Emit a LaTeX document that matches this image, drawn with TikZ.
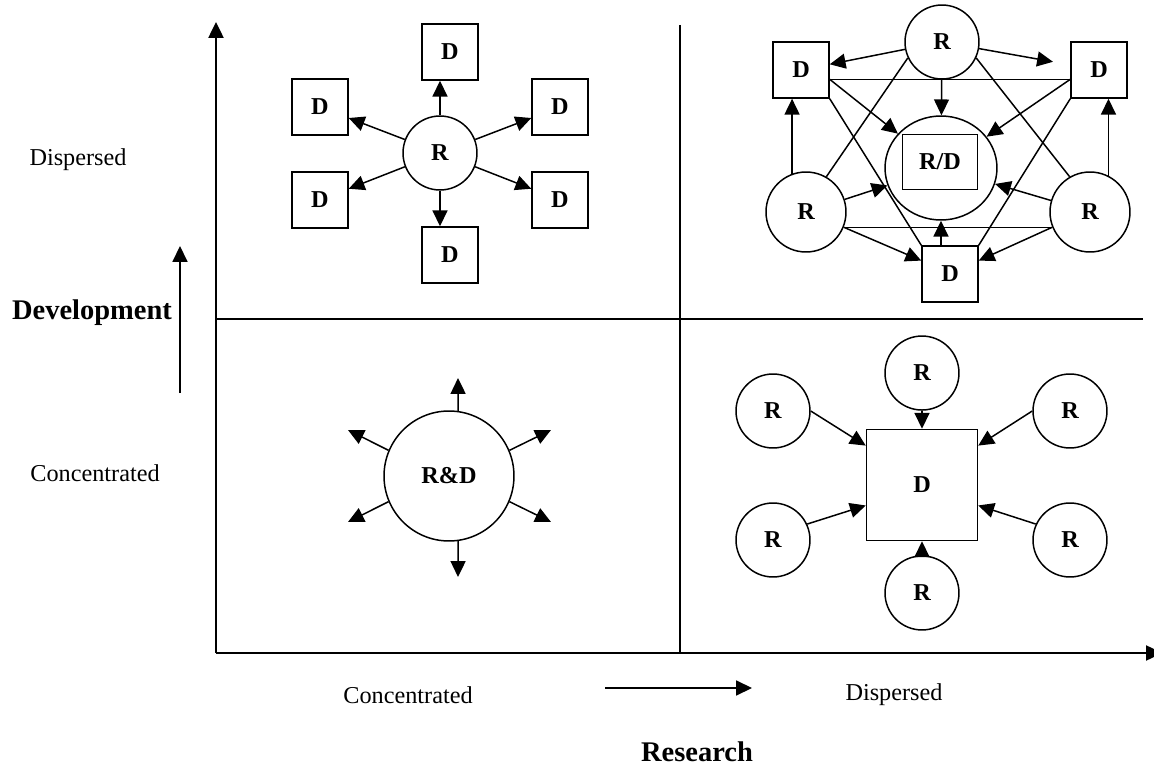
\documentclass[tikz,border=0pt]{standalone}
\usepackage{fontspec}
\setmainfont{Liberation Serif}
\usetikzlibrary{arrows.meta, shapes.geometric, positioning}

\begin{document}
\begin{tikzpicture}[
        x=0.02cm, y=-0.02cm,
        line width=0.85pt,
        >={Triangle[length=9pt, width=8.5pt]},
        dbox/.style={rectangle, draw, minimum size=1.12cm, inner sep=0pt, font=\fontsize{13.8}{16}\selectfont\bfseries},
        rcirc/.style={circle, draw, minimum size=1.48cm, inner sep=0pt, font=\fontsize{13.8}{16}\selectfont\bfseries},
        axis/.style={line width=1.2pt},
        axislabel/.style={font=\fontsize{13.8}{16}\selectfont},
        axistitle/.style={font=\fontsize{16.2}{19}\selectfont\bfseries}
    ]
    \useasboundingbox (0,0) rectangle (1154,767);

    % Axes and quadrants
    \coordinate (origin) at (216,653);
    \coordinate (dev_end) at (216,22);
    \coordinate (res_end) at (1162,653);
    \coordinate (vsplit_top) at (680,25);
    \coordinate (vsplit_bot) at (680,653);
    \coordinate (hsplit_left) at (216,319);
    \coordinate (hsplit_right) at (1143,319);
    \draw[axis, ->] (origin) -- (dev_end);
    \draw[axis, ->] (origin) -- (res_end);
    \draw (vsplit_top) -- (vsplit_bot);
    \draw (hsplit_left) -- (hsplit_right);

    % Development axis labels
    \node[axislabel] (dev_disp) at (78,160) {Dispersed};
    \node[axislabel] (dev_conc) at (95,473) {Concentrated};
    \node[axistitle] (dev_title) at (92,313) {Development};
    \coordinate (dev_from) at (180,393);
    \coordinate (dev_to) at (180,246);
    \draw[->] (dev_from) -- (dev_to);

    % Research axis labels
    \node[axislabel] (res_conc) at (408,695) {Concentrated};
    \node[axislabel] (res_disp) at (894,695) {Dispersed};
    \node[axistitle] (res_title) at (697,752) {Research};
    \coordinate (res_from) at (605,688);
    \coordinate (res_to) at (752,688);
    \draw[->] (res_from) -- (res_to);

    % Concentrated research, dispersed development
    \node[rcirc] (tl_r) at (440,153) {R};
    \node[dbox] (tl_d1) at (450,52) {D};
    \node[dbox] (tl_d2) at (320,107) {D};
    \node[dbox] (tl_d3) at (320,200) {D};
    \node[dbox] (tl_d4) at (450,255) {D};
    \node[dbox] (tl_d5) at (560,200) {D};
    \node[dbox] (tl_d6) at (560,107) {D};
    \draw[->] (tl_r.north) -- (tl_r |- tl_d1.south);
    \draw[->] (tl_r.south) -- (tl_r |- tl_d4.north);
    \foreach \d in {tl_d2, tl_d3, tl_d5, tl_d6}
        \draw[->] (tl_r) -- (\d);

    % Dispersed research, dispersed development
    \node[ellipse, draw, minimum width=2.24cm, minimum height=2.08cm] (tr_core) at (941,168) {};
    \node[dbox, minimum width=1.5cm, minimum height=1.1cm] (tr_core_box) at (940,162) {R/D};
    \node[rcirc] (tr_rt) at (942,42) {R};
    \node[rcirc, minimum size=1.6cm] (tr_rl) at (806,212) {R};
    \node[rcirc, minimum size=1.6cm] (tr_rr) at (1090,212) {R};
    \node[dbox] (tr_dl) at (801,70) {D};
    \node[dbox] (tr_dr) at (1099,70) {D};
    \node[dbox] (tr_db) at (950,274) {D};

    \draw[->] (tr_rt) -- (tr_dl);
    \draw[->, shorten >=10pt] (tr_rt) -- (tr_dr);
    \draw[->] (tr_rt) -- (tr_core);
    \draw (tr_rt.205) -- (tr_rl.60);
    \draw (tr_rt.335) -- (tr_rr.120);
    \draw (tr_dl.-18) -- (tr_dr.198);
    \draw[->] (tr_dl.-18) -- (tr_core);
    \draw[->] (tr_dr.198) -- (tr_core);
    \draw (tr_dl.south east) -- (tr_db.north west);
    \draw (tr_dr.south west) -- (tr_db.north east);
    \draw[->] (tr_rl.110) -- (tr_rl.110 |- tr_dl.south);
    \draw[->] (tr_rr.63) -- (tr_rr.63 |- tr_dr.south);
    \draw[->] (tr_rl) -- (tr_core);
    \draw[->] (tr_rr) -- (tr_core);
    \draw (tr_rl.-22) -- (tr_rr.202);
    \draw[->] (tr_rl.-22) -- (tr_db.155);
    \draw[->] (tr_rr.202) -- (tr_db.25);
    \draw[->] (tr_db.north -| tr_core.south) -- (tr_core.south);

    % Concentrated research and development
    \node[rcirc, minimum size=2.6cm] (bl_rd) at (449,476) {R\&D};
    \coordinate (bl_n) at (458,378);
    \coordinate (bl_ne) at (551,430);
    \coordinate (bl_nw) at (348,430);
    \coordinate (bl_sw) at (348,522);
    \coordinate (bl_se) at (551,522);
    \coordinate (bl_s) at (458,577);
    \foreach \a/\tip in {82/bl_n, 23/bl_ne, 157/bl_nw, 203/bl_sw, 337/bl_se, 278/bl_s}
        \draw[->] (bl_rd.\a) -- (\tip);

    % Dispersed research, concentrated development
    \node[dbox, minimum size=2.22cm] (br_d) at (922,485) {D};
    \node[rcirc, above=0.36cm of br_d] (br_rt) {R};
    \node[rcirc, below=0.28cm of br_d] (br_rb) {R};
    \node[rcirc] (br_rul) at (773,411) {R};
    \node[rcirc] (br_rll) at (773,540) {R};
    \node[rcirc] (br_rur) at (1070,411) {R};
    \node[rcirc] (br_rlr) at (1070,540) {R};
    \draw[->] (br_rt) -- (br_d);
    \draw[->] (br_rb) -- (br_d);
    \draw[->] (br_rul.east) -- (br_d.145);
    \draw[->] (br_rll.25) -- (br_d.200);
    \draw[->] (br_rur.west) -- (br_d.35);
    \draw[->] (br_rlr.155) -- (br_d.340);
\end{tikzpicture}
\end{document}
